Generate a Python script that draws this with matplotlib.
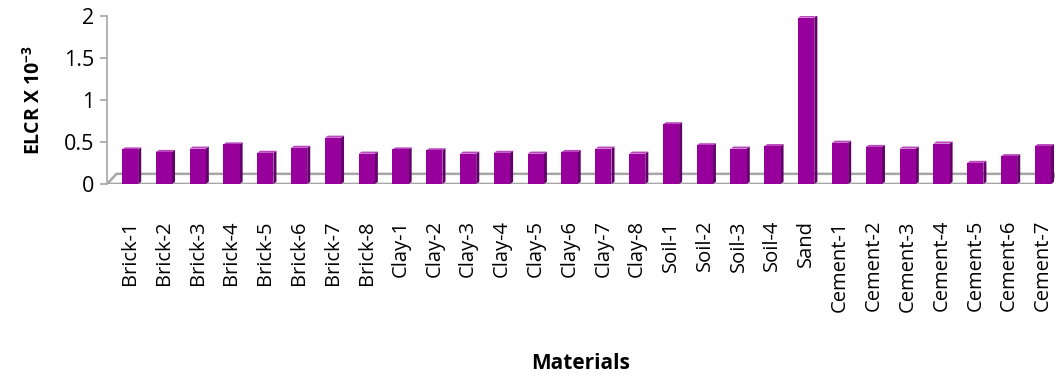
import numpy as np
import matplotlib.pyplot as plt
from matplotlib.patches import Polygon

plt.rcParams['font.family'] = ['Open Sans', 'DejaVu Sans']

materials = ['Brick-1', 'Brick-2', 'Brick-3', 'Brick-4', 'Brick-5', 'Brick-6', 'Brick-7', 'Brick-8',
             'Clay-1', 'Clay-2', 'Clay-3', 'Clay-4', 'Clay-5', 'Clay-6', 'Clay-7', 'Clay-8',
             'Soil-1', 'Soil-2', 'Soil-3', 'Soil-4', 'Sand',
             'Cement-1', 'Cement-2', 'Cement-3', 'Cement-4', 'Cement-5', 'Cement-6', 'Cement-7']
elcr = [0.41, 0.38, 0.42, 0.47, 0.37, 0.43, 0.55, 0.36,
        0.41, 0.40, 0.36, 0.37, 0.36, 0.38, 0.42, 0.36,
        0.71, 0.46, 0.42, 0.45, 1.98,
        0.49, 0.44, 0.42, 0.48, 0.25, 0.33, 0.45]

front = '#98009c'
side = '#62006a'
top = '#b848bc'
grid_grey = '#a6a6a6'

fig = plt.figure(figsize=(10.6, 3.8), dpi=100)
ax = fig.add_axes([0.101, 0.516, 0.894, 0.442])

x = np.arange(len(materials))
w = 0.48
dx, dy = 0.09, 0.025   # fake depth for the 3-D look

# floor of the chart
floor_y = 0.12
ax.add_patch(Polygon([(-0.68, 0), (27.25, 0), (27.35, floor_y), (-0.40, floor_y)],
                     closed=True, facecolor='white', edgecolor=grid_grey, lw=1.8, zorder=1))

ax.bar(x, elcr, width=w, color=front, edgecolor='none', zorder=3)
for xi, v in zip(x, elcr):
    x0, x1 = xi - w / 2, xi + w / 2
    ax.add_patch(Polygon([(x1, 0), (x1 + dx, dy), (x1 + dx, v + dy), (x1, v)],
                         closed=True, facecolor=side, edgecolor='none', zorder=2.9))
    ax.add_patch(Polygon([(x0, v), (x1, v), (x1 + dx, v + dy), (x0 + dx, v + dy)],
                         closed=True, facecolor=top, edgecolor='none', zorder=2.9))

ax.set_xlim(-0.68, 27.35)
ax.set_ylim(0, 2)
ax.set_yticks([0, 0.5, 1, 1.5, 2])
ax.set_yticklabels(['0', '0.5', '1', '1.5', '2'])
ax.set_xticks(x)
ax.set_xticklabels(materials, rotation=90, fontsize=14.5)
ax.tick_params(axis='x', length=0, pad=26)
ax.tick_params(axis='y', labelsize=15.5, length=5, color=grid_grey, width=1.2, pad=4)

for s in ['top', 'right', 'bottom']:
    ax.spines[s].set_visible(False)
ax.spines['left'].set_color(grid_grey)
ax.spines['left'].set_linewidth(1.2)

ax.set_ylabel(r'ELCR X 10$^{\mathregular{-3}}$', fontsize=14, fontweight='bold', labelpad=14)
ax.set_xlabel('Materials', fontsize=15, fontweight='bold', labelpad=30)

plt.savefig('out.png', dpi=100)
